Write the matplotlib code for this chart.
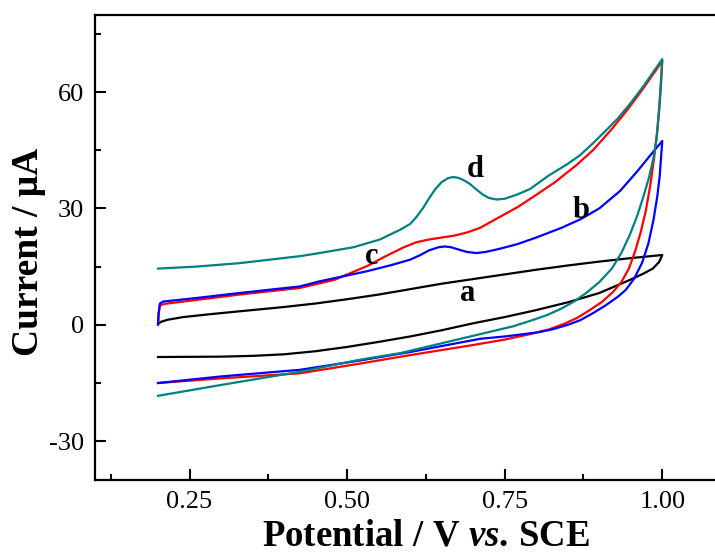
import matplotlib
matplotlib.use("Agg")
import matplotlib.pyplot as plt
from matplotlib.ticker import MultipleLocator, FixedLocator

plt.rcParams['font.family'] = ['Liberation Serif', 'DejaVu Serif']
plt.rcParams['axes.unicode_minus'] = False
plt.rcParams['mathtext.fontset'] = 'custom'
plt.rcParams['mathtext.rm'] = 'Liberation Serif:bold'
plt.rcParams['mathtext.bf'] = 'Liberation Serif:bold'
plt.rcParams['mathtext.it'] = 'Liberation Serif:italic:bold'

# ---- data (potential V, current uA), full CV loop: forward then reverse ----
a_x = [0.200, 0.205, 0.215, 0.240, 0.280, 0.330, 0.400, 0.450, 0.500, 0.550, 0.600, 0.650, 0.700,
       0.750, 0.800, 0.850, 0.900, 0.950, 1.000,
       0.995, 0.985, 0.970, 0.949, 0.900, 0.850, 0.800, 0.750, 0.700, 0.650, 0.600, 0.550, 0.500,
       0.450, 0.400, 0.350, 0.300, 0.200]
a_y = [0.2, 0.8, 1.3, 2.0, 2.7, 3.5, 4.6, 5.5, 6.6, 7.8, 9.2, 10.6, 11.8,
       13.0, 14.2, 15.3, 16.3, 17.2, 18.0,
       16.2, 14.5, 13.2, 11.6, 8.2, 5.8, 3.8, 2.0, 0.4, -1.4, -3.0, -4.4, -5.7,
       -6.8, -7.6, -8.0, -8.2, -8.3]

c_x = [0.200, 0.201, 0.203, 0.210, 0.260, 0.329, 0.425, 0.480, 0.531, 0.560, 0.590, 0.610, 0.630,
       0.650, 0.670, 0.690, 0.711, 0.742, 0.770, 0.800, 0.830, 0.864, 0.890, 0.920, 0.945, 0.970, 1.000,
       0.996, 0.992, 0.987, 0.981, 0.974, 0.966, 0.957, 0.947, 0.935, 0.922, 0.905, 0.885, 0.865,
       0.845, 0.820, 0.790, 0.750, 0.700, 0.600, 0.520, 0.425, 0.300, 0.200]
c_y = [0.0, 3.0, 5.0, 5.4, 6.4, 7.8, 9.5, 11.6, 15.1, 17.6, 20.0, 21.3, 22.0,
       22.5, 23.0, 23.8, 25.0, 27.8, 30.3, 33.5, 36.8, 41.2, 45.0, 50.5, 55.5, 61.0, 68.0,
       58.0, 50.0, 43.0, 36.0, 29.5, 24.0, 19.0, 14.5, 11.0, 8.5, 6.0, 3.8, 1.8,
       0.3, -1.2, -2.4, -3.8, -5.2, -7.8, -10.0, -12.5, -13.8, -15.0]

b_x = [0.200, 0.201, 0.203, 0.208, 0.260, 0.329, 0.425, 0.456, 0.531, 0.570, 0.600, 0.615, 0.630,
       0.645, 0.655, 0.665, 0.675, 0.690, 0.705, 0.720, 0.742, 0.770, 0.800, 0.840, 0.870, 0.900,
       0.933, 0.960, 0.980, 1.000,
       0.998, 0.996, 0.992, 0.986, 0.978, 0.968, 0.955, 0.942, 0.930, 0.910, 0.890, 0.870, 0.850,
       0.825, 0.800, 0.750, 0.711, 0.600, 0.520, 0.425, 0.300, 0.200]
b_y = [0.2, 3.0, 5.5, 6.0, 6.9, 8.2, 9.9, 11.2, 13.8, 15.4, 16.8, 17.9, 19.2,
       20.0, 20.2, 20.0, 19.5, 18.8, 18.5, 18.8, 19.6, 20.8, 22.5, 25.0, 27.2, 30.0,
       34.5, 39.5, 43.5, 47.4,
       43.0, 38.5, 33.0, 27.0, 21.0, 16.0, 11.8, 9.0, 7.3, 5.0, 3.0, 1.2, 0.0,
       -1.2, -2.0, -3.0, -3.6, -7.0, -9.2, -11.6, -13.3, -15.0]

d_x = [0.200, 0.260, 0.329, 0.425, 0.456, 0.510, 0.552, 0.584, 0.600, 0.610, 0.620, 0.630, 0.640,
       0.650, 0.660, 0.668, 0.676, 0.685, 0.695, 0.705, 0.715, 0.725, 0.737, 0.750, 0.770, 0.790,
       0.820, 0.850, 0.870, 0.890, 0.910, 0.930, 0.950, 0.970, 0.985, 1.000,
       0.998, 0.995, 0.991, 0.986, 0.979, 0.970, 0.960, 0.948, 0.935, 0.920, 0.900, 0.880, 0.860,
       0.840, 0.817, 0.790, 0.763, 0.742, 0.711, 0.584, 0.520, 0.425, 0.300, 0.200]
d_y = [14.5, 15.0, 15.9, 17.7, 18.5, 20.0, 22.0, 24.5, 26.0, 27.8, 30.0, 32.6, 35.0,
       36.8, 37.8, 38.1, 37.9, 37.3, 36.3, 34.9, 33.6, 32.7, 32.3, 32.5, 33.6, 35.0,
       38.5, 41.5, 43.8, 46.8, 50.0, 53.3, 57.2, 61.5, 65.0, 68.5,
       62.0, 55.0, 48.0, 43.0, 38.0, 33.0, 28.0, 23.0, 18.5, 14.5, 11.0, 8.3, 6.0,
       4.2, 2.5, 1.0, -0.4, -1.2, -2.4, -7.3, -9.0, -12.1, -15.5, -18.3]

curve_labels = ['a', 'b', 'c', 'd']
label_x = [0.692, 0.871, 0.539, 0.704]
label_y = [8.0, 29.5, 17.6, 40.0]

x_ticks = [0.25, 0.50, 0.75, 1.00]
x_ticklabels = ['0.25', '0.50', '0.75', '1.00']
y_ticks = [-30, 0, 30, 60]
y_ticklabels = ['-30', '0', '30', '60']

# ---- figure ----
fig = plt.figure(figsize=(7.15, 5.52), dpi=100)
ax = fig.add_axes([95/715, 1-480/552, 630.3/715, (480-14.5)/552])

ax.plot(a_x, a_y, color='black', lw=1.6)
ax.plot(c_x, c_y, color='#ff0000', lw=1.6)
ax.plot(b_x, b_y, color='#0000ff', lw=1.6)
ax.plot(d_x, d_y, color='#008080', lw=1.6)

for lab, lx, ly in zip(curve_labels, label_x, label_y):
    ax.text(lx, ly, lab, fontsize=22, fontweight='bold', ha='center', va='center')

ax.set_xlim(0.1, 1.1)
ax.set_ylim(-40, 80)

ax.xaxis.set_major_locator(FixedLocator(x_ticks))
ax.set_xticklabels(x_ticklabels)
ax.xaxis.set_minor_locator(MultipleLocator(0.125))
ax.yaxis.set_major_locator(FixedLocator(y_ticks))
ax.set_yticklabels(y_ticklabels)
ax.yaxis.set_minor_locator(MultipleLocator(15))

ax.tick_params(which='both', direction='in', width=1.5, labelsize=19, top=False, right=False)
ax.tick_params(which='major', length=8, pad=8)
ax.tick_params(which='minor', length=4.5)
for s in ax.spines.values():
    s.set_linewidth(1.6)

fig.text(426/715, 1-545/552, r'$\mathbf{Potential\ /\ V\ }\mathit{vs.}\mathbf{\,SCE}$',
         fontsize=26.5, ha='center', va='baseline')
fig.text(28/715, 1-251.7/552, 'Current / μA', fontsize=27, fontweight='bold',
         rotation=90, ha='center', va='center')

fig.savefig('out.png', dpi=100)
